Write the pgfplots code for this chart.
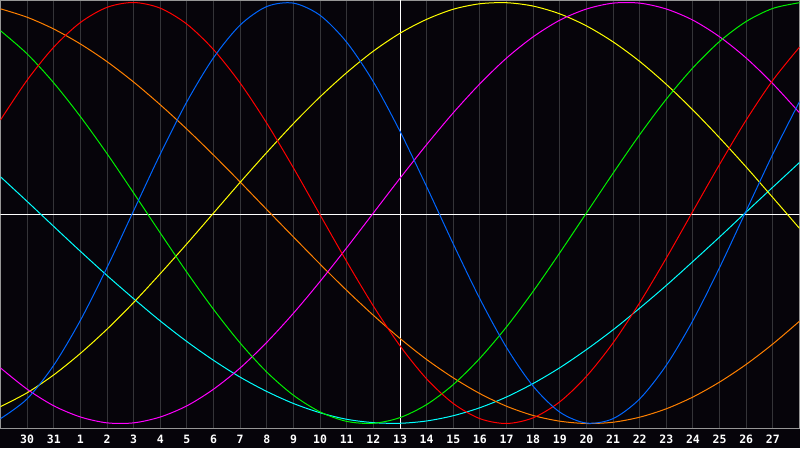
\documentclass[border=0pt]{standalone}
\usepackage{pgfplots}
\usepackage{pgfplotstable}
\pgfplotsset{compat=1.18}
\usepackage{fontspec}
\setmonofont{DejaVu Sans Mono}

\definecolor{bgblack}{RGB}{6,4,10}
\definecolor{framegray}{RGB}{150,150,150}
\definecolor{gridgray}{RGB}{52,52,56}
\definecolor{cphys}{RGB}{0,102,255}
\definecolor{cemo}{RGB}{255,0,0}
\definecolor{cint}{RGB}{0,240,0}
\definecolor{cintu}{RGB}{255,0,255}
\definecolor{caest}{RGB}{255,255,0}
\definecolor{caware}{RGB}{255,128,0}
\definecolor{cspir}{RGB}{0,255,255}

% day index k (0 = 29th of previous month), cycles of 23, 28, 33, 38, 43, 48, 53 days
\pgfplotstableread{
k  phys   emo    intel  intu   aest   aware  spir
0  -0.977 0.442  0.866  -0.736 -0.920 0.970  0.172
1  -0.883 0.631  0.756  -0.837 -0.854 0.930  0.055
2  -0.723 0.788  0.618  -0.916 -0.769 0.874  -0.064
3  -0.510 0.905  0.458  -0.969 -0.667 0.803  -0.182
4  -0.259 0.977  0.282  -0.997 -0.552 0.719  -0.297
5  0.011  1.000  0.095  -0.997 -0.425 0.622  -0.407
6  0.280  0.973  -0.095 -0.969 -0.288 0.514  -0.513
7  0.529  0.897  -0.282 -0.916 -0.146 0.398  -0.611
8  0.738  0.776  -0.458 -0.837 0.000  0.275  -0.700
9  0.893  0.617  -0.618 -0.736 0.146  0.147  -0.780
10 0.981  0.426  -0.756 -0.614 0.288  0.016  -0.848
11 0.997  0.214  -0.866 -0.476 0.425  -0.114 -0.905
12 0.939  -0.009 -0.945 -0.325 0.552  -0.243 -0.949
13 0.811  -0.231 -0.990 -0.165 0.667  -0.368 -0.980
14 0.623  -0.442 -0.999 0.000  0.769  -0.486 -0.996
15 0.388  -0.631 -0.972 0.165  0.854  -0.596 -0.999
16 0.125  -0.788 -0.910 0.325  0.920  -0.696 -0.988
17 -0.147 -0.905 -0.815 0.476  0.968  -0.783 -0.963
18 -0.408 -0.977 -0.690 0.614  0.994  -0.858 -0.925
19 -0.639 -1.000 -0.541 0.736  0.999  -0.918 -0.874
20 -0.823 -0.973 -0.372 0.837  0.983  -0.962 -0.810
21 -0.946 -0.897 -0.189 0.916  0.946  -0.989 -0.735
22 -0.998 -0.776 0.000  0.969  0.889  -1.000 -0.649
23 -0.977 -0.617 0.189  0.997  0.813  -0.994 -0.555
24 -0.883 -0.426 0.372  0.997  0.720  -0.970 -0.452
25 -0.723 -0.214 0.541  0.969  0.611  -0.930 -0.344
26 -0.510 0.009  0.690  0.916  0.489  -0.874 -0.230
27 -0.259 0.231  0.815  0.837  0.357  -0.803 -0.114
28 0.011  0.442  0.910  0.736  0.218  -0.719 0.005
29 0.280  0.631  0.972  0.614  0.073  -0.622 0.123
30 0.529  0.788  0.999  0.476  -0.073 -0.514 0.240
}\biodata

\begin{document}
\begin{tikzpicture}
\fill[bgblack] (0,-20pt) rectangle (800pt,428pt);
\begin{axis}[
  at={(0.5pt,-0.5pt)}, anchor=south west,
  scale only axis,
  width=799pt, height=428pt,
  xmin=0, xmax=30,
  ymin=-1.0238, ymax=1.0095,
  axis background/.style={fill=bgblack},
  axis line style={framegray, line width=1pt},
  xtick={1,...,29},
  xticklabels={30,31,1,2,3,4,5,6,7,8,9,10,11,12,13,14,15,16,17,18,19,20,21,22,23,24,25,26,27},
  major tick length=0pt,
  ytick=\empty,
  xmajorgrids,
  grid style={gridgray, line width=1pt},
  xticklabel style={anchor=center, yshift=-10.8pt, text=white,
    font=\fontsize{11.5}{13}\selectfont\ttfamily\bfseries},
  every axis plot/.append style={line width=1pt, smooth, no markers},
]
% centre cross, placed on pixel centres
\addplot[white, line width=1pt, sharp plot] coordinates {(0,-0.0071) (30,-0.0071)};
\addplot[white, line width=1pt, sharp plot] coordinates {(15.019,-1.0238) (15.019,1.0095)};
\addplot[cspir] table[x=k, y=spir] {\biodata};
\addplot[caware] table[x=k, y=aware] {\biodata};
\addplot[caest] table[x=k, y=aest] {\biodata};
\addplot[cintu] table[x=k, y=intu] {\biodata};
\addplot[cint] table[x=k, y=intel] {\biodata};
\addplot[cemo] table[x=k, y=emo] {\biodata};
\addplot[cphys] table[x=k, y=phys] {\biodata};
\end{axis}
\pgfresetboundingbox
\useasboundingbox (0,-20pt) rectangle (800pt,428pt);
\end{tikzpicture}
\end{document}
